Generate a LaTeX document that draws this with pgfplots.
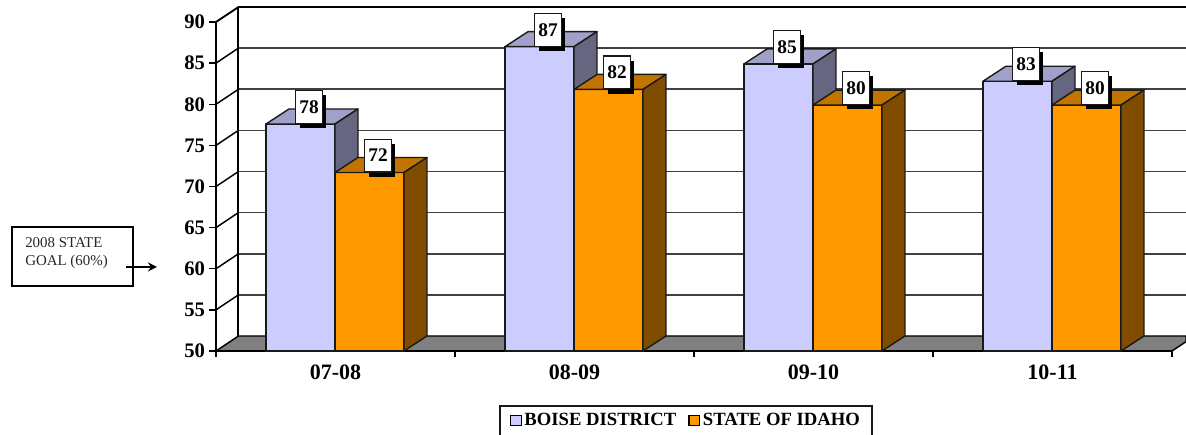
\documentclass[border=0pt]{standalone}
\usepackage{fontspec}
\setmainfont{Liberation Serif}
\usepackage{pgfplots}
\pgfplotsset{compat=1.18}
\usetikzlibrary{shadows}
\definecolor{pf}{HTML}{CCCCFF}\definecolor{pt}{HTML}{A0A0C8}\definecolor{ps}{HTML}{666680}
\definecolor{of}{HTML}{FF9900}\definecolor{ot}{HTML}{C27400}\definecolor{os}{HTML}{804D00}
\newcommand{\threed}[5]{%
  \pgfmathsetmacro{\xa}{#1}\pgfmathsetmacro{\xb}{#1+0.2887}%
  \pgfmathsetmacro{\xc}{#1+0.2887+0.0962}\pgfmathsetmacro{\xd}{#1+0.0962}%
  \pgfmathsetmacro{\yb}{#2+1.824}\pgfmathsetmacro{\yf}{51.824}%
  \addplot[forget plot,fill=#3,draw=black!90,line width=1.05pt,line join=round] coordinates {(\xa,50) (\xb,50) (\xb,#2) (\xa,#2)} --cycle;
  \addplot[forget plot,fill=#4,draw=black!90,line width=1.05pt,line join=round] coordinates {(\xa,#2) (\xb,#2) (\xc,\yb) (\xd,\yb)} --cycle;
  \addplot[forget plot,fill=#5,draw=black!90,line width=1.05pt,line join=round] coordinates {(\xb,50) (\xc,\yf) (\xc,\yb) (\xb,#2)} --cycle;
}
\begin{document}
\begin{tikzpicture}
\path[use as bounding box,x=.75pt,y=-.75pt] (-216,84) rectangle (970,-351);
\begin{axis}[
  scale only axis, width=727.5pt, height=259.09pt,
  xmin=0, xmax=4.0586, ymin=50, ymax=92, clip=false,
  axis lines*=left, axis line style={draw=none},
  ytick={50,55,...,90},
  xtick={0.5,1.5,2.5,3.5}, xticklabels={07-08,08-09,09-10,10-11},
  minor xtick={0,1,2,3,4},
  major x tick style={draw=none},
  minor x tick style={black,line width=0.9pt},
  y tick style={black,line width=1pt},
  tick align=outside, major tick length=5.25pt, minor tick length=4.5pt,
  /pgf/number format/assume math mode=true,
  yticklabel style={font=\fontsize{15.5}{15.5}\bfseries,xshift=0.5pt},
  xticklabel style={font=\fontsize{16.5}{16.5}\bfseries,yshift=-1.5pt},
  legend columns=2,
  legend style={at={(axis description cs:0.4848,-0.2005)},anchor=center,draw=none,fill=none,
    font=\fontsize{14}{14}\bfseries,inner xsep=0pt,inner ysep=0pt,
    /tikz/every even column/.append style={column sep=7pt}},
  legend image code/.code={\draw[#1,line width=0.9pt] (0pt,-3.75pt) rectangle (8pt,3.75pt);},
]
% floor
\addplot[forget plot,fill=gray,draw=black,line width=1.1pt] coordinates {(0,50) (4,50) (4.0586,51.137) (4.0586,51.824) (0.094,51.824)} --cycle;
% back wall grid
\pgfplotsinvokeforeach{55,60,65,70,75,80,85}{
  \addplot[forget plot,color=black!75,line width=1.2pt] coordinates {(0.094,#1+1.824) (4.0586,#1+1.824)};
  \addplot[forget plot,color=black,line width=1.1pt] coordinates {(0,#1) (0.094,#1+1.824)};
}
\addplot[forget plot,black,line width=1.4pt] coordinates {(0,90) (0.094,91.824) (4.0586,91.824)};
\addplot[forget plot,black,line width=1.5pt] coordinates {(0.094,51.824) (0.094,91.824)};
\addplot[forget plot,black,line width=1.5pt] coordinates {(0,50) (0,90)};
\addplot[forget plot,black,line width=1.6pt] coordinates {(0,50) (4,50)};
% bars
\threed{0.2092}{77.6}{pf}{pt}{ps}
\threed{0.4979}{71.7}{of}{ot}{os}
\threed{1.2092}{87.0}{pf}{pt}{ps}
\threed{1.4979}{81.8}{of}{ot}{os}
\threed{2.2092}{84.9}{pf}{pt}{ps}
\threed{2.4979}{79.9}{of}{ot}{os}
\threed{3.2092}{82.8}{pf}{pt}{ps}
\threed{3.4979}{79.9}{of}{ot}{os}
% value labels
\addplot[forget plot,draw=none,
  point meta=explicit symbolic,
  nodes near coords,
  every node near coord/.append style={
    anchor=south, xshift=6.4pt, yshift=0pt,
    fill=white, draw=black!90, line width=0.8pt,
    minimum width=20pt, minimum height=24.7pt, inner sep=0pt,
    font=\fontsize{14.5}{14.5}\bfseries, text=black,
    general shadow={shadow xshift=3pt,shadow yshift=-3.5pt,fill=black}}
] coordinates {
 (0.3536,77.6)[78] (0.6423,71.7)[72]
 (1.3536,87.0)[87] (1.6423,81.8)[82]
 (2.3536,84.9)[85] (2.6423,79.9)[80]
 (3.3536,82.8)[83] (3.6423,79.9)[80]
};
\addlegendimage{fill=pf,draw=black}
\addlegendentry{BOISE DISTRICT}
\addlegendimage{fill=of,draw=black}
\addlegendentry{STATE OF IDAHO}
\end{axis}
\begin{scope}[x=.75pt,y=-.75pt,shift={(-216,-351)}]
\draw[black!90,line width=1.3pt] (500,440) -- (500,406) -- (872,406) -- (872,440);
\draw[black,line width=2.2pt] (12,227) rectangle (133,286);
\node[anchor=west,font=\fontsize{11.2}{11.2}\selectfont,inner sep=0pt,text=black!85] at (25,243) {2008 STATE};
\node[anchor=west,font=\fontsize{11.2}{11.2}\selectfont,inner sep=0pt,text=black!85] at (25,261.5) {GOAL (60\%)};
\draw[black,line width=2pt,-stealth] (126,267) -- (157,267);
\end{scope}
\end{tikzpicture}
\end{document}
